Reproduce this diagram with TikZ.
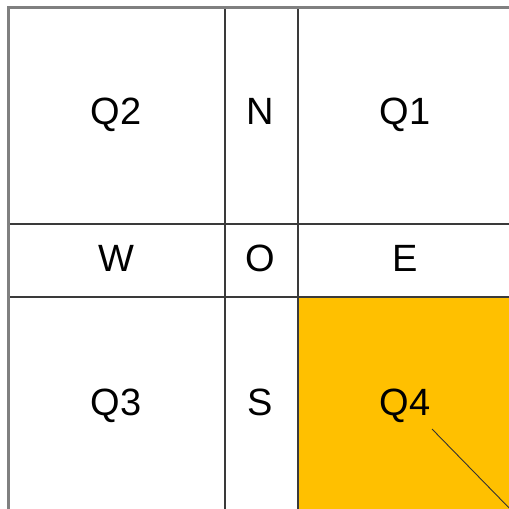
\documentclass[tikz,border=0pt]{standalone}
\usepackage{fontspec}
\setmainfont{Liberation Sans}
\definecolor{qfill}{HTML}{FFC000}
\definecolor{gridline}{HTML}{3A3A3A}
\definecolor{outerline}{HTML}{808080}
\begin{document}
\begin{tikzpicture}[x=1pt,y=-1pt,
  lbl/.style={font=\fontsize{38}{44}\selectfont, inner sep=0pt, text height=27.2pt, text depth=0pt, anchor=center},
  inner/.style={draw=gridline, line width=1.6pt},
  outer/.style={draw=outerline, line width=3pt}]
\useasboundingbox (0,0) rectangle (509,509);
\fill[qfill] (298,297) rectangle (512,512);
\draw[inner] (225,7) -- (225,512);
\draw[inner] (298,7) -- (298,512);
\draw[inner] (8,224) -- (512,224);
\draw[inner] (8,297) -- (512,297);
\draw[outer] (8.5,512) -- (8.5,7.5) -- (512,7.5);
\node[lbl] (q2) at (116,111) {Q2};
\node[lbl] (n) at (260,111) {N};
\node[lbl] (q1) at (405,111) {Q1};
\node[lbl] (w) at (116,258) {W};
\node[lbl] (o) at (260,258) {O};
\node[lbl] (e) at (405,258) {E};
\node[lbl] (q3) at (116,402) {Q3};
\node[lbl] (s) at (260,402) {S};
\node[lbl] (q4) at (405,402) {Q4};
\coordinate (d1) at (432,429);
\coordinate (d2) at (515,514);
\draw[black!80, line width=0.9pt] (d1) -- (d2);
\end{tikzpicture}
\end{document}
